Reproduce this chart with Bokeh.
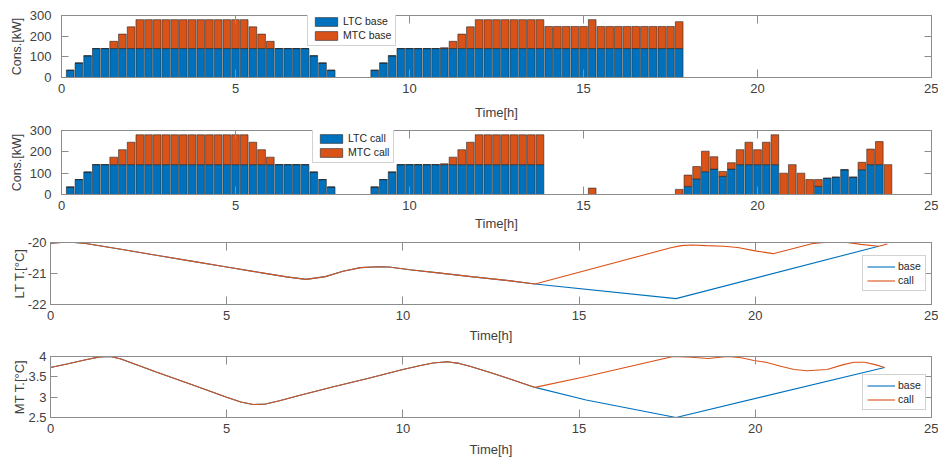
from bokeh.plotting import figure
from bokeh.models import (ColumnDataSource, LinearAxis, Legend, LegendItem,
                          FixedTicker, Range1d, CustomJSTickFormatter)
from bokeh.embed import file_html
from bokeh.resources import INLINE

# ---------------------------------------------------------------------------
# Data: quarter-hour consumption slots (hours) and cooling demand in kW
# ---------------------------------------------------------------------------
SLOTS = [i / 4 for i in range(1, 96)]

LTC_BASE = ([35, 70, 105] + [140] * 25 + [105, 70, 35] + [0] * 4
            + [35, 70, 105] + [140] * 33 + [0] * 24)
MTC_BASE = ([0] * 5 + [35, 70, 105] + [140] * 13 + [105, 70, 35] + [0] * 19
            + [4, 35, 70, 105] + [140] * 8 + [107] * 5 + [140] + [107] * 9
            + [130] + [0] * 24)

LTC_CALL = ([35, 70, 105] + [140] * 25 + [105, 70, 35] + [0] * 4
            + [35, 70, 105] + [140] * 17 + [0] * 16
            + [38, 73, 107, 119, 85, 119, 140, 140, 140, 140, 140,
               0, 0, 0, 0, 38, 76, 81, 116, 81, 116, 140, 140, 0])
MTC_CALL = ([0] * 5 + [35, 70, 105] + [140] * 13 + [105, 70, 35] + [0] * 19
            + [4, 35, 70, 105] + [140] * 8 + [0] * 5 + [30] + [0] * 9 + [24]
            + [53, 58, 96, 58, 23, 30, 70, 105, 70, 105, 140,
               100, 140, 100, 70, 32, 0, 0, 0, 0, 35, 73, 108, 140])

# Low-temperature room temperature (deg C)
LT_BASE_T = [0, 0.3, 0.6, 1.0, 2.0, 3.0, 4.0, 5.0, 6.0, 6.7, 7.25, 7.8, 8.3,
             8.8, 9.3, 9.6, 10.2, 11.0, 12.0, 13.0, 13.75, 17.75, 23.5]
LT_BASE = [-20.02, -19.995, -19.99, -20.03, -20.22, -20.41, -20.60, -20.79,
           -20.98, -21.11, -21.19, -21.10, -20.93, -20.81, -20.78, -20.79,
           -20.88, -20.98, -21.11, -21.23, -21.34, -21.81, -20.12]
LT_CALL_T = [0, 0.3, 0.6, 1.0, 2.0, 3.0, 4.0, 5.0, 6.0, 6.7, 7.25, 7.8, 8.3,
             8.8, 9.3, 9.6, 10.2, 11.0, 12.0, 13.0, 13.75, 17.6, 17.9, 18.2,
             18.6, 19.1, 19.5, 20.0, 20.5, 21.0, 21.6, 22.1, 22.6, 23.0,
             23.5, 23.75]
LT_CALL = [-20.02, -19.995, -19.99, -20.03, -20.22, -20.41, -20.60, -20.79,
           -20.98, -21.11, -21.19, -21.10, -20.93, -20.81, -20.78, -20.79,
           -20.88, -20.98, -21.11, -21.23, -21.34, -20.17, -20.10, -20.08,
           -20.10, -20.12, -20.16, -20.27, -20.36, -20.22, -20.04, -19.98,
           -20.00, -20.06, -20.12, -20.05]

# Medium-temperature room temperature (deg C)
MT_BASE_T = [0, 0.5, 1.0, 1.4, 1.7, 2.0, 3.0, 4.0, 5.0, 5.4, 5.75, 6.1, 6.5,
             7.0, 8.0, 9.0, 10.0, 10.5, 10.86, 11.25, 11.6, 11.9, 12.5, 13.0,
             13.75, 15.2, 17.75, 23.67]
MT_BASE = [3.73, 3.82, 3.92, 3.99, 4.00, 3.94, 3.62, 3.31, 3.00, 2.88, 2.82,
           2.83, 2.91, 3.03, 3.25, 3.46, 3.68, 3.78, 3.84, 3.87, 3.83, 3.76,
           3.60, 3.46, 3.24, 2.93, 2.50, 3.73]
MT_CALL_T = [0, 0.5, 1.0, 1.4, 1.7, 2.0, 3.0, 4.0, 5.0, 5.4, 5.75, 6.1, 6.5,
             7.0, 8.0, 9.0, 10.0, 10.5, 10.86, 11.25, 11.6, 11.9, 12.5, 13.0,
             13.75, 15.2, 17.67, 18.2, 18.67, 19.0, 19.24, 19.6, 19.96, 20.3,
             20.72, 21.1, 21.47, 22.04, 22.5, 22.8, 23.1, 23.4, 23.67]
MT_CALL = [3.73, 3.82, 3.92, 3.99, 4.00, 3.94, 3.62, 3.31, 3.00, 2.88, 2.82,
           2.83, 2.91, 3.03, 3.25, 3.46, 3.68, 3.78, 3.84, 3.87, 3.83, 3.76,
           3.60, 3.46, 3.24, 3.51, 4.00, 3.98, 3.95, 3.98, 4.00, 3.97, 3.90,
           3.86, 3.76, 3.68, 3.65, 3.68, 3.80, 3.86, 3.86, 3.80, 3.73]

X_TICKS = [0, 5, 10, 15, 20, 25]
CONS_TICKS = [0, 100, 200, 300]
LT_TICKS = [-22, -21, -20]
MT_TICKS = [2.5, 3, 3.5, 4]

# ---------------------------------------------------------------------------
# Styling
# ---------------------------------------------------------------------------
FONT = "Liberation Sans"
LINE_GRAY = "#8c8c8c"
TEXT = "#404040"
BLUE = "#0072BD"
ORANGE = "#D95319"


def panel(height, left, top, bottom, y_start, y_end, yticks, ylabel,
          ylabel_size, tick_standoff, ylabel_standoff, xlabel_standoff):
    p = figure(width=938, height=height, output_backend="svg",
               toolbar_location=None,
               x_range=Range1d(0, 25), y_range=Range1d(y_start, y_end),
               min_border_left=left, min_border_right=7,
               min_border_top=top, min_border_bottom=bottom)
    p.xgrid.grid_line_color = None
    p.ygrid.grid_line_color = None
    p.outline_line_color = LINE_GRAY
    p.outline_line_alpha = 1.0
    p.background_fill_color = "white"
    p.border_fill_color = "white"

    blank = CustomJSTickFormatter(code="return ''")
    plain = CustomJSTickFormatter(code="return tick.toString()")

    xa = p.xaxis[0]
    xa.ticker = FixedTicker(ticks=X_TICKS)
    xa.formatter = plain
    xa.axis_label = "Time[h]"
    xa.axis_label_text_font = FONT
    xa.axis_label_text_font_style = "normal"
    xa.axis_label_text_font_size = "13px"
    xa.axis_label_text_color = TEXT
    xa.axis_label_standoff = xlabel_standoff
    xa.major_label_standoff = 6

    ya = p.yaxis[0]
    ya.ticker = FixedTicker(ticks=yticks)
    ya.formatter = plain
    ya.axis_label = ylabel
    ya.axis_label_text_font = FONT
    ya.axis_label_text_font_style = "normal"
    ya.axis_label_text_font_size = ylabel_size
    ya.axis_label_text_color = TEXT
    ya.axis_label_standoff = ylabel_standoff
    ya.major_label_standoff = tick_standoff

    top_ax = LinearAxis(ticker=FixedTicker(ticks=X_TICKS), formatter=blank,
                        major_label_standoff=0)
    right_ax = LinearAxis(ticker=FixedTicker(ticks=yticks), formatter=blank,
                          major_label_standoff=0)
    p.add_layout(top_ax, "above")
    p.add_layout(right_ax, "right")

    for ax in (xa, top_ax):
        ax.major_tick_in = 8
    for ax in (ya, right_ax):
        ax.major_tick_in = 7
    for ax in (xa, ya, top_ax, right_ax):
        ax.major_tick_out = 0
        ax.minor_tick_line_color = None
        ax.axis_line_color = LINE_GRAY
        ax.major_tick_line_color = LINE_GRAY
        ax.major_label_text_font = FONT
        ax.major_label_text_font_size = "13px"
        ax.major_label_text_color = TEXT
    return p


def legend(items, location):
    return Legend(items=items, location=location, orientation="vertical",
                  background_fill_color="white", background_fill_alpha=1.0,
                  border_line_color="#a6a6a6", border_line_width=1,
                  label_text_font=FONT, label_text_font_size="10.5px",
                  label_text_color="#262626", glyph_width=28, glyph_height=11,
                  label_height=11, label_standoff=3, spacing=2, padding=4,
                  margin=0)


def bar_panel(ltc, mtc, names, height, top, bottom, xlabel_standoff, leg_loc):
    p = panel(height, 61, top, bottom, 0, 300, CONS_TICKS, "Cons.[kW]",
              "12.5px", 10, 3, xlabel_standoff)
    src = ColumnDataSource(dict(t=SLOTS, ltc=ltc, mtc=mtc))
    rs = p.vbar_stack(["ltc", "mtc"], x="t", width=0.22, source=src,
                      fill_color=[BLUE, ORANGE], line_color="#262626",
                      line_width=0.6)
    p.add_layout(legend([LegendItem(label=names[0], renderers=[rs[0]]),
                         LegendItem(label=names[1], renderers=[rs[1]])],
                        leg_loc))
    return p


def line_panel(bt, bv, ct, cv, y_start, y_end, yticks, ylabel, height, top,
               bottom, xlabel_standoff, leg_loc):
    p = panel(height, 50, top, bottom, y_start, y_end, yticks, ylabel,
              "13px", 4, -2, xlabel_standoff)
    rb = p.line(bt, bv, line_color=BLUE, line_width=1.1)
    rc = p.line(ct, cv, line_color=ORANGE, line_width=1.1)
    p.add_layout(legend([LegendItem(label="base", renderers=[rb]),
                         LegendItem(label="call", renderers=[rc])], leg_loc))
    return p


p1 = bar_panel(LTC_BASE, MTC_BASE, ("LTC base", "MTC base"), 122, 15, 43, 9,
               (246, 31))
p2 = bar_panel(LTC_CALL, MTC_CALL, ("LTC call", "MTC call"), 112, 8, 40, 3,
               (251, 31))
p3 = line_panel(LT_BASE_T, LT_BASE, LT_CALL_T, LT_CALL, -22, -20, LT_TICKS,
                "LT T.[°C]", 111, 8, 39, 5, (812, 13))
p4 = line_panel(MT_BASE_T, MT_BASE, MT_CALL_T, MT_CALL, 2.5, 4, MT_TICKS,
                "MT T.[°C]", 114, 11, 39, 6, (812, 7))

# Each panel is its own root so that their frames keep their own left edges.
with open("out.html", "w") as f:
    f.write(file_html([p1, p2, p3, p4], INLINE))
